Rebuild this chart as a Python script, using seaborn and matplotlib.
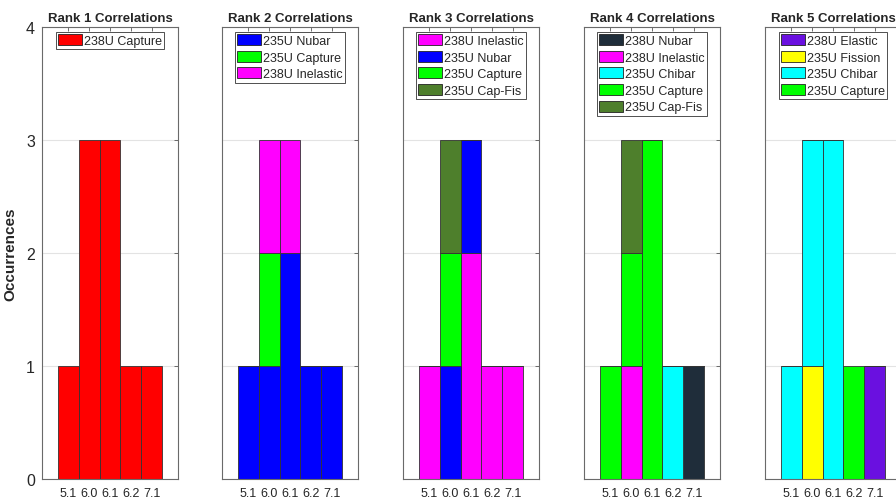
import matplotlib
matplotlib.use("Agg")
import matplotlib.pyplot as plt
from matplotlib.patches import Patch
import pandas as pd
import seaborn as sns

# ── data (counts per code version, series listed bottom -> top of the stack) ──
VERSIONS = ["5.1", "6.0", "6.1", "6.2", "7.1"]

RANK1_LABELS = ["238U Capture"]
RANK1_COUNTS = [[1, 3, 3, 1, 1]]

RANK2_LABELS = ["235U Nubar", "235U Capture", "238U Inelastic"]
RANK2_COUNTS = [[1, 1, 2, 1, 1],
                [0, 1, 0, 0, 0],
                [0, 1, 1, 0, 0]]

RANK3_LABELS = ["238U Inelastic", "235U Nubar", "235U Capture", "235U Cap-Fis"]
RANK3_COUNTS = [[1, 0, 2, 1, 1],
                [0, 1, 1, 0, 0],
                [0, 1, 0, 0, 0],
                [0, 1, 0, 0, 0]]

RANK4_LABELS = ["238U Nubar", "238U Inelastic", "235U Chibar", "235U Capture", "235U Cap-Fis"]
RANK4_COUNTS = [[0, 0, 0, 0, 1],
                [0, 1, 0, 0, 0],
                [0, 0, 0, 1, 0],
                [1, 1, 3, 0, 0],
                [0, 1, 0, 0, 0]]

RANK5_LABELS = ["238U Elastic", "235U Fission", "235U Chibar", "235U Capture"]
RANK5_COUNTS = [[0, 0, 0, 0, 1],
                [0, 1, 0, 0, 0],
                [1, 2, 3, 0, 0],
                [0, 0, 0, 1, 0]]

COLORS = {
    "238U Capture": "#FF0000", "235U Nubar": "#0000FF", "235U Capture": "#00FF00",
    "238U Inelastic": "#FF00FF", "235U Cap-Fis": "#4E7F2C", "238U Nubar": "#1F2D3A",
    "235U Chibar": "#00FFFF", "238U Elastic": "#6A10E0", "235U Fission": "#FFFF00",
}

PANELS = [
    ("Rank 1 Correlations", RANK1_LABELS, RANK1_COUNTS),
    ("Rank 2 Correlations", RANK2_LABELS, RANK2_COUNTS),
    ("Rank 3 Correlations", RANK3_LABELS, RANK3_COUNTS),
    ("Rank 4 Correlations", RANK4_LABELS, RANK4_COUNTS),
    ("Rank 5 Correlations", RANK5_LABELS, RANK5_COUNTS),
]

sns.set_theme(style="white")
plt.rcParams["font.family"] = ["Liberation Sans", "DejaVu Sans"]

W, H = 896, 502
fig = plt.figure(figsize=(W / 100, H / 100), dpi=100)

AX_LEFTS = [42, 222, 403, 584, 765]
AX_W, AX_TOP, AX_BOT = 136, 28, 480

for i, (title, labels, counts) in enumerate(PANELS):
    ax = fig.add_axes([AX_LEFTS[i] / W, 1 - AX_BOT / H, AX_W / W, (AX_BOT - AX_TOP) / H])

    rows = []
    for lab, vals in zip(labels, counts):
        for pos, v in enumerate(vals):
            if v > 0:
                rows.append({"pos": pos, "series": lab, "count": v})
    df = pd.DataFrame(rows)

    # seaborn stacks the last hue level at the bottom
    sns.histplot(data=df, x="pos", weights="count", hue="series",
                 hue_order=labels[::-1], palette=COLORS, multiple="stack",
                 discrete=True, shrink=1, alpha=1, edgecolor="#333333",
                 linewidth=0.6, legend=False, ax=ax)

    ax.set_xlim(-1.25, 5.25)
    ax.set_ylim(0, 4)
    ax.set_xticks(range(len(VERSIONS)))
    ax.set_xticklabels(VERSIONS, fontsize=9, color="#262626")
    ax.set_yticks(range(5))
    ax.yaxis.grid(True, color="#e3e3e3", lw=0.8)
    ax.set_axisbelow(True)
    ax.tick_params(direction="in", top=True, right=True, length=3, width=0.6,
                   color="#555555")
    ax.tick_params(axis="x", pad=6)
    ax.tick_params(axis="y", labelsize=11.5, labelcolor="#262626", pad=5)
    for s in ax.spines.values():
        s.set_color("#6a6a6a")
        s.set_linewidth(0.8)
    ax.set_xlabel("")
    if i == 0:
        ax.set_ylabel("Occurrences", fontsize=11, fontweight="bold", labelpad=6)
    else:
        ax.set_ylabel("")
        ax.tick_params(axis="y", labelleft=False)
    ax.set_title(title, fontsize=9.5, fontweight="bold", pad=4)

    handles = [Patch(facecolor=COLORS[l], edgecolor="#222222", linewidth=0.6) for l in labels]
    leg = ax.legend(handles, labels, loc="upper center", bbox_to_anchor=(0.5, 0.99),
                    borderaxespad=0, fontsize=9, frameon=True, fancybox=False,
                    framealpha=1, edgecolor="#333333", handlelength=1.9,
                    handleheight=1.0, handletextpad=0.15, labelspacing=0.3,
                    borderpad=0.2)
    leg.get_frame().set_linewidth(0.6)

fig.savefig("out.png", dpi=100)
